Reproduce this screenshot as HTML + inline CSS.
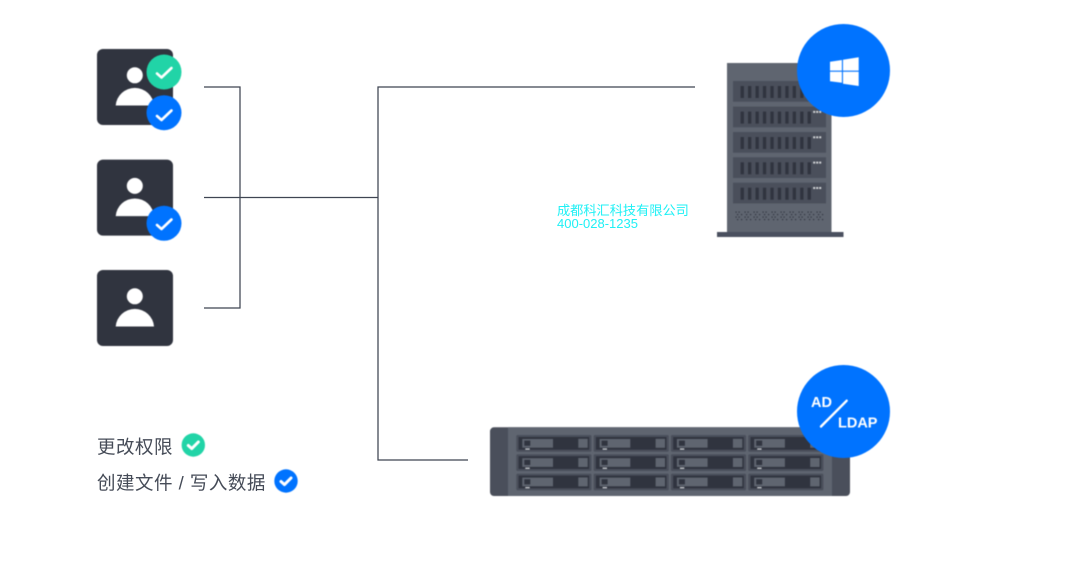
<!DOCTYPE html>
<html lang="zh">
<head>
<meta charset="utf-8">
<title>权限示意图</title>
<style>
html,body{margin:0;padding:0;background:#fff;}
body{width:1088px;height:568px;overflow:hidden;}
svg{display:block;}
text{font-family:"Liberation Sans","Noto Sans CJK SC",sans-serif;}
.soft{filter:blur(0.45px);}
</style>
</head>
<body>
<svg width="1088" height="568" viewBox="0 0 1088 568" xmlns="http://www.w3.org/2000/svg">
<defs>
  <g id="user">
    <rect x="97" y="49" width="76" height="76" rx="6" fill="#30343f"/>
    <circle cx="134.8" cy="75.3" r="8" fill="#fff"/>
    <path d="M115.7 105.5A19.2 19 0 0 1 154 105.5Z" fill="#fff"/>
  </g>
  <path id="chk" d="M-7 1 L-2.5 5 L7.5 -4.5" fill="none" stroke="#fff" stroke-width="2.6" stroke-linecap="round" stroke-linejoin="round"/>
  <path id="chkS" d="M-5 0.5 L-1.5 3.6 L5 -3" fill="none" stroke="#fff" stroke-width="3" stroke-linecap="round" stroke-linejoin="round"/>
  <g id="srow">
    <rect x="733" y="0" width="93" height="20.7" fill="#4a4f5b"/>
    <g fill="#30343f">
      <rect x="740.6" y="5" width="3.3" height="12"/>
      <rect x="748" y="5" width="3.3" height="12"/>
      <rect x="755.5" y="5" width="3.3" height="12"/>
      <rect x="762.9" y="5" width="3.3" height="12"/>
      <rect x="770.4" y="5" width="3.3" height="12"/>
      <rect x="777.8" y="5" width="3.3" height="12"/>
      <rect x="785.3" y="5" width="3.3" height="12"/>
      <rect x="792.7" y="5" width="3.3" height="12"/>
      <rect x="800.2" y="5" width="3.3" height="12"/>
      <rect x="807.6" y="5" width="3.3" height="12"/>
    </g>
    <g fill="#d5d7da">
      <rect x="813.2" y="4.3" width="2" height="2"/>
      <rect x="816.2" y="4.3" width="2" height="2"/>
      <rect x="819.2" y="4.3" width="2" height="2"/>
    </g>
  </g>
  <g id="bay">
    <rect x="516.3" y="435" width="75.2" height="16.8" rx="1.5" fill="#4a4f5b"/>
    <rect x="518.6" y="437" width="70.6" height="12.7" fill="#30343f"/>
    <rect x="522.3" y="439" width="30.7" height="8.7" fill="#5f6570"/>
    <rect x="524.3" y="440.6" width="6" height="5.2" fill="#30343f"/>
    <rect x="578.3" y="438.8" width="9.4" height="9" fill="#5f6570"/>
    <rect x="525.3" y="448.4" width="4.4" height="1.3" fill="#c9ccd0"/>
  </g>
  <g id="bayrow">
    <use href="#bay"/>
    <use href="#bay" x="77.3"/>
    <use href="#bay" x="154.6"/>
    <use href="#bay" x="231.9"/>
  </g>
  <pattern id="grille" x="735" y="211" width="9" height="5" patternUnits="userSpaceOnUse">
    <rect x="0.5" y="0.5" width="1.2" height="1.2" fill="#30343f"/>
    <rect x="3.5" y="0.5" width="1.2" height="1.2" fill="#30343f"/>
    <rect x="2" y="3" width="1.2" height="1.2" fill="#30343f"/>
    <rect x="6" y="3" width="1.2" height="1.2" fill="#30343f"/>
  </pattern>
</defs>

<!-- connectors -->
<g fill="none" stroke="#3f4552" stroke-width="1.25">
  <path d="M204 87H240V308H204"/>
  <path d="M204 197.5H378"/>
  <path d="M695 87H378V460H468"/>
</g>

<g class="soft">
<!-- users -->
<use href="#user"/>
<use href="#user" y="110.6"/>
<use href="#user" y="221"/>

<circle cx="164" cy="72" r="17.5" fill="#21d4a7"/>
<use href="#chk" x="164" y="72.5"/>
<circle cx="164" cy="112.7" r="17.5" fill="#0073ff"/>
<use href="#chk" x="164" y="115"/>
<circle cx="164" cy="223.3" r="17.5" fill="#0073ff"/>
<use href="#chk" x="164" y="224"/>

<!-- tower server -->
<rect x="727" y="63" width="104.5" height="170" fill="#5f6570"/>
<rect x="717" y="232" width="126.5" height="5" fill="#4a505f"/>
<use href="#srow" y="81"/>
<use href="#srow" y="106.6"/>
<use href="#srow" y="132"/>
<use href="#srow" y="157.3"/>
<use href="#srow" y="182.7"/>
<rect x="735" y="211" width="89" height="10" fill="url(#grille)"/>

<circle cx="843.5" cy="70.5" r="46.5" fill="#0073ff"/>
<g fill="#fff">
  <polygon points="830,61.7 841.9,60 841.9,70.6 830,70.6"/>
  <polygon points="843,59.7 858.7,57.3 858.7,70.6 843,70.6"/>
  <polygon points="830,71.8 841.9,71.8 841.9,82.8 830,81.3"/>
  <polygon points="843,71.8 858.7,71.8 858.7,86 843,83.8"/>
</g>

<!-- rack NAS -->
<rect x="490" y="427.3" width="360" height="68.7" rx="4" fill="#4a4f5b"/>
<rect x="508" y="427.3" width="324" height="68.7" fill="#5f6570"/>
<use href="#bayrow"/>
<use href="#bayrow" y="19.2"/>
<use href="#bayrow" y="38.6"/>

<circle cx="843.5" cy="411.5" r="46.5" fill="#0073ff"/>
<text x="811" y="407" font-size="14.5" font-weight="700" fill="#fff">AD</text>
<text x="838" y="427.5" font-size="14.5" font-weight="700" fill="#fff">LDAP</text>
<line x1="846.7" y1="400.7" x2="821" y2="426.5" stroke="#fff" stroke-width="2.4" stroke-linecap="round"/>

<!-- legend badges -->
<circle cx="193.3" cy="445" r="11.7" fill="#21d4a7"/>
<use href="#chkS" x="193.3" y="445"/>
<circle cx="286" cy="481" r="11.7" fill="#0073ff"/>
<use href="#chkS" x="286" y="481"/>
</g>

<!-- legend text -->
<text x="97" y="453.5" font-size="18.5" letter-spacing="0.5" fill="#454b57">更改权限</text>
<text x="97" y="489.5" font-size="18.5" letter-spacing="0.5" fill="#454b57">创建文件 / 写入数据</text>

<!-- watermark -->
<text x="557" y="215" font-size="13.2" fill="#1ff0f5" style="font-family:'Liberation Sans','WenQuanYi Zen Hei',sans-serif">成都科汇科技有限公司</text>
<text x="557" y="228" font-size="13" fill="#1ff0f5">400-028-1235</text>
</svg>
</body>
</html>
